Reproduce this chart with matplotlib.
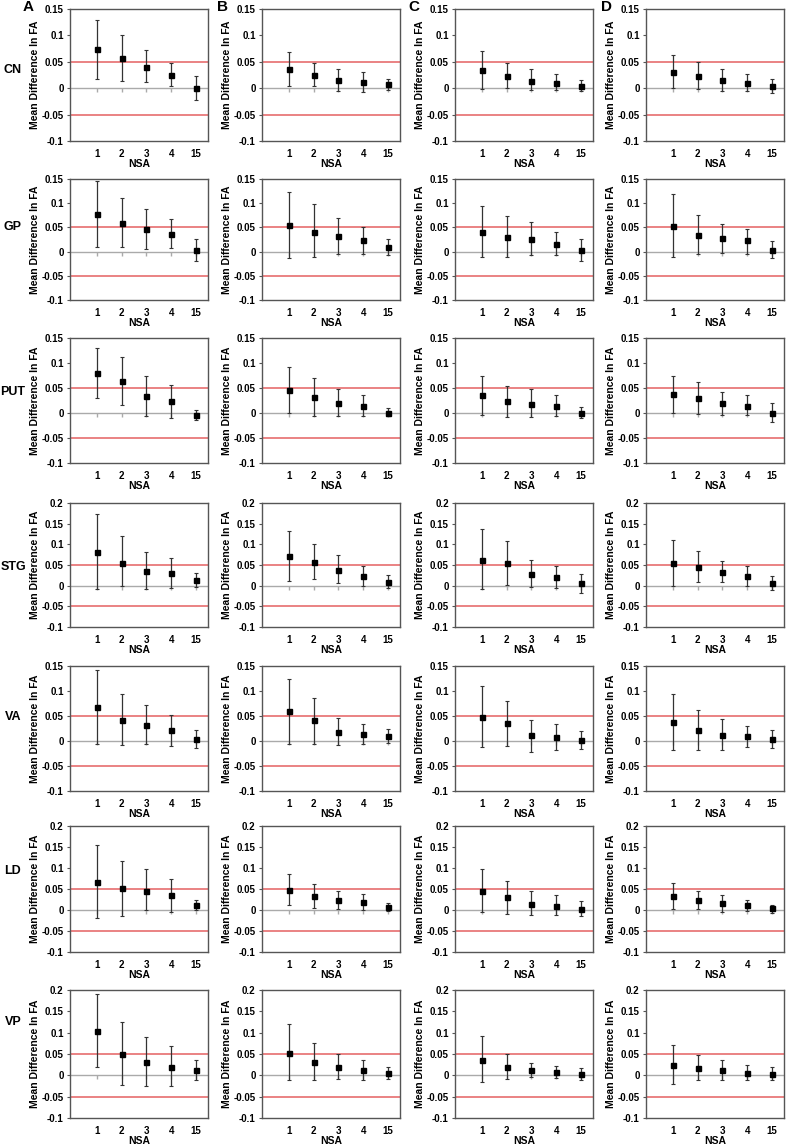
import numpy as np
import matplotlib
matplotlib.use("Agg")
import matplotlib.pyplot as plt
from matplotlib.ticker import FuncFormatter, MultipleLocator
from matplotlib.markers import TICKDOWN

plt.rcParams['font.family'] = ['Liberation Sans', 'DejaVu Sans']
plt.rcParams['font.weight'] = 'bold'

nsa = ['1', '2', '3', '4', '15']
columns = ['A', 'B', 'C', 'D']
regions = ['CN', 'GP', 'PUT', 'STG', 'VA', 'LD', 'VP']

# mean / upper / lower of each error bar, one inner list per column A-D
CN_mean = [[0.074, 0.057, 0.041, 0.025, 0.0], [0.0355, 0.025, 0.015, 0.011, 0.0076],
           [0.034, 0.0235, 0.014, 0.010, 0.004], [0.030, 0.0235, 0.015, 0.010, 0.004]]
CN_hi = [[0.129, 0.101, 0.072, 0.048, 0.023], [0.068, 0.047, 0.037, 0.031, 0.018],
         [0.071, 0.048, 0.036, 0.026, 0.015], [0.062, 0.049, 0.036, 0.026, 0.017]]
CN_lo = [[0.018, 0.013, 0.011, 0.004, -0.023], [0.004, 0.004, -0.005, -0.008, -0.003],
         [-0.001, 0.001, -0.004, -0.004, -0.005], [0.001, -0.001, -0.005, -0.005, -0.009]]

GP_mean = [[0.078, 0.060, 0.047, 0.037, 0.0035], [0.055, 0.041, 0.032, 0.023, 0.0097],
           [0.040, 0.031, 0.0255, 0.015, 0.0035], [0.0525, 0.035, 0.028, 0.023, 0.0035]]
GP_hi = [[0.146, 0.110, 0.088, 0.067, 0.025], [0.123, 0.098, 0.069, 0.050, 0.026],
         [0.095, 0.073, 0.061, 0.041, 0.026], [0.119, 0.076, 0.057, 0.046, 0.021]]
GP_lo = [[0.010, 0.010, 0.006, 0.008, -0.019], [-0.014, -0.012, -0.004, -0.004, -0.007],
         [-0.012, -0.011, -0.008, -0.008, -0.019], [-0.012, -0.005, -0.002, -0.005, -0.014]]

PUT_mean = [[0.080, 0.064, 0.034, 0.024, -0.003], [0.046, 0.032, 0.021, 0.015, 0.001],
            [0.0365, 0.024, 0.019, 0.015, 0.001], [0.038, 0.030, 0.021, 0.015, 0.001]]
PUT_hi = [[0.131, 0.112, 0.074, 0.057, 0.007], [0.092, 0.071, 0.048, 0.037, 0.011],
          [0.075, 0.054, 0.048, 0.037, 0.012], [0.075, 0.062, 0.043, 0.036, 0.021]]
PUT_lo = [[0.0305, 0.017, -0.005, -0.009, -0.013], [0.0, -0.005, -0.005, -0.005, -0.005],
          [-0.003, -0.007, -0.007, -0.005, -0.009], [0.0, -0.002, -0.004, -0.004, -0.017]]

STG_mean = [[0.082, 0.055, 0.035, 0.030, 0.013], [0.072, 0.057, 0.039, 0.023, 0.008],
            [0.063, 0.055, 0.028, 0.021, 0.0056], [0.054, 0.045, 0.034, 0.023, 0.0056]]
STG_hi = [[0.1725, 0.120, 0.081, 0.066, 0.030], [0.132, 0.102, 0.075, 0.048, 0.025],
          [0.137, 0.108, 0.061, 0.047, 0.029], [0.110, 0.083, 0.060, 0.047, 0.024]]
STG_lo = [[-0.007, 0.0, -0.009, -0.006, -0.003], [0.012, 0.015, 0.007, 0.0, -0.006],
          [-0.008, 0.002, -0.004, -0.005, -0.017], [-0.001, 0.009, 0.008, 0.0, -0.011]]

VA_mean = [[0.068, 0.043, 0.032, 0.022, 0.0033], [0.060, 0.042, 0.019, 0.015, 0.011],
           [0.0485, 0.036, 0.012, 0.008, 0.003], [0.0385, 0.022, 0.013, 0.010, 0.004]]
VA_hi = [[0.143, 0.094, 0.072, 0.053, 0.023], [0.125, 0.086, 0.047, 0.035, 0.025],
         [0.110, 0.080, 0.043, 0.034, 0.021], [0.094, 0.062, 0.045, 0.031, 0.022]]
VA_lo = [[-0.005, -0.007, -0.006, -0.009, -0.013], [-0.005, -0.005, -0.007, -0.005, -0.003],
         [-0.011, -0.009, -0.021, -0.017, -0.015], [-0.017, -0.017, -0.017, -0.011, -0.014]]

LD_mean = [[0.067, 0.053, 0.046, 0.035, 0.012], [0.047, 0.033, 0.024, 0.019, 0.007],
           [0.045, 0.030, 0.015, 0.010, 0.003], [0.033, 0.023, 0.016, 0.011, 0.004]]
LD_hi = [[0.155, 0.117, 0.097, 0.075, 0.025], [0.085, 0.063, 0.045, 0.038, 0.016],
         [0.097, 0.070, 0.045, 0.035, 0.022], [0.065, 0.045, 0.036, 0.025, 0.013]]
LD_lo = [[-0.020, -0.015, 0.0, -0.005, 0.0], [0.012, 0.005, 0.003, 0.0, -0.002],
         [-0.005, -0.010, -0.013, -0.013, -0.015], [0.003, 0.002, -0.004, -0.003, -0.006]]

VP_mean = [[0.105, 0.050, 0.032, 0.020, 0.012], [0.053, 0.032, 0.020, 0.012, 0.006],
           [0.037, 0.020, 0.012, 0.008, 0.003], [0.024, 0.018, 0.013, 0.006, 0.004]]
VP_hi = [[0.190, 0.125, 0.090, 0.068, 0.035], [0.120, 0.075, 0.050, 0.035, 0.020],
         [0.092, 0.050, 0.030, 0.022, 0.018], [0.070, 0.048, 0.035, 0.025, 0.020]]
VP_lo = [[0.020, -0.022, -0.025, -0.025, -0.010], [-0.010, -0.010, -0.008, -0.010, -0.008],
         [-0.015, -0.008, -0.005, -0.006, -0.010], [-0.020, -0.012, -0.010, -0.012, -0.012]]

means = [CN_mean, GP_mean, PUT_mean, STG_mean, VA_mean, LD_mean, VP_mean]
highs = [CN_hi, GP_hi, PUT_hi, STG_hi, VA_hi, LD_hi, VP_hi]
lows = [CN_lo, GP_lo, PUT_lo, STG_lo, VA_lo, LD_lo, VP_lo]
ytops = [0.15, 0.15, 0.15, 0.2, 0.15, 0.2, 0.2]

W, H = 786, 1145
fig = plt.figure(figsize=(W / 100, H / 100), dpi=100)

col_left = [70, 262, 455, 646]
col_w = 138
row_top = [9, 179, 338, 503, 666, 826, 990]
row_bot = [141, 300, 463, 627, 791, 952, 1118]
label_y = [70, 227, 392, 567, 717, 871, 1022]
letter_x = [28, 223, 414, 606]

fmt = FuncFormatter(lambda v, p: '{:g}'.format(round(v, 3)))
x = np.arange(1, len(nsa) + 1)

for r in range(len(regions)):
    for c in range(len(columns)):
        ax = fig.add_axes([col_left[c] / W, 1 - row_bot[r] / H,
                           col_w / W, (row_bot[r] - row_top[r]) / H])
        m = np.array(means[r][c])
        hi = np.array(highs[r][c])
        lo = np.array(lows[r][c])
        ax.axhline(0.05, color='#e8787a', lw=1.3, zorder=1)
        ax.axhline(-0.05, color='#e8787a', lw=1.3, zorder=1)
        ax.axhline(0, color='#aaaaaa', lw=1.0, zorder=1)
        ax.plot(x, np.zeros(len(x)), ls='none', marker=TICKDOWN, ms=3,
                color='#aaaaaa', zorder=1)
        ax.errorbar(x, m, yerr=[m - lo, hi - m], fmt='s', color='black',
                    ecolor='#333333', elinewidth=0.9, capsize=1.5, capthick=0.8,
                    ms=3.6, zorder=3)
        ax.set_xlim(-0.08, 5.48)
        ax.set_ylim(-0.1, ytops[r])
        ax.yaxis.set_major_locator(MultipleLocator(0.05))
        ax.yaxis.set_major_formatter(fmt)
        ax.set_xticks(x)
        ax.set_xticklabels(nsa)
        ax.tick_params(axis='x', length=0, labelsize=7, pad=6)
        ax.tick_params(axis='y', length=2.5, width=0.8, color='#555555',
                       labelsize=7, pad=2)
        for lab in ax.get_xticklabels() + ax.get_yticklabels():
            lab.set_fontweight('bold')
        for s in ax.spines.values():
            s.set_color('#555555')
            s.set_linewidth(1.0)
        ax.set_xlabel('NSA', fontsize=7.5, fontweight='bold', labelpad=0)
        ax.set_ylabel('Mean Difference In FA', fontsize=7.5, fontweight='bold',
                      labelpad=1)

    fig.text(13 / W, 1 - label_y[r] / H, regions[r], fontsize=9, fontweight='bold',
             ha='center', va='center')

for c in range(len(columns)):
    fig.text(letter_x[c] / W, 1 - 7 / H, columns[c], fontsize=11,
             fontweight='bold', ha='center', va='center')

fig.savefig('out.png', dpi=100)
